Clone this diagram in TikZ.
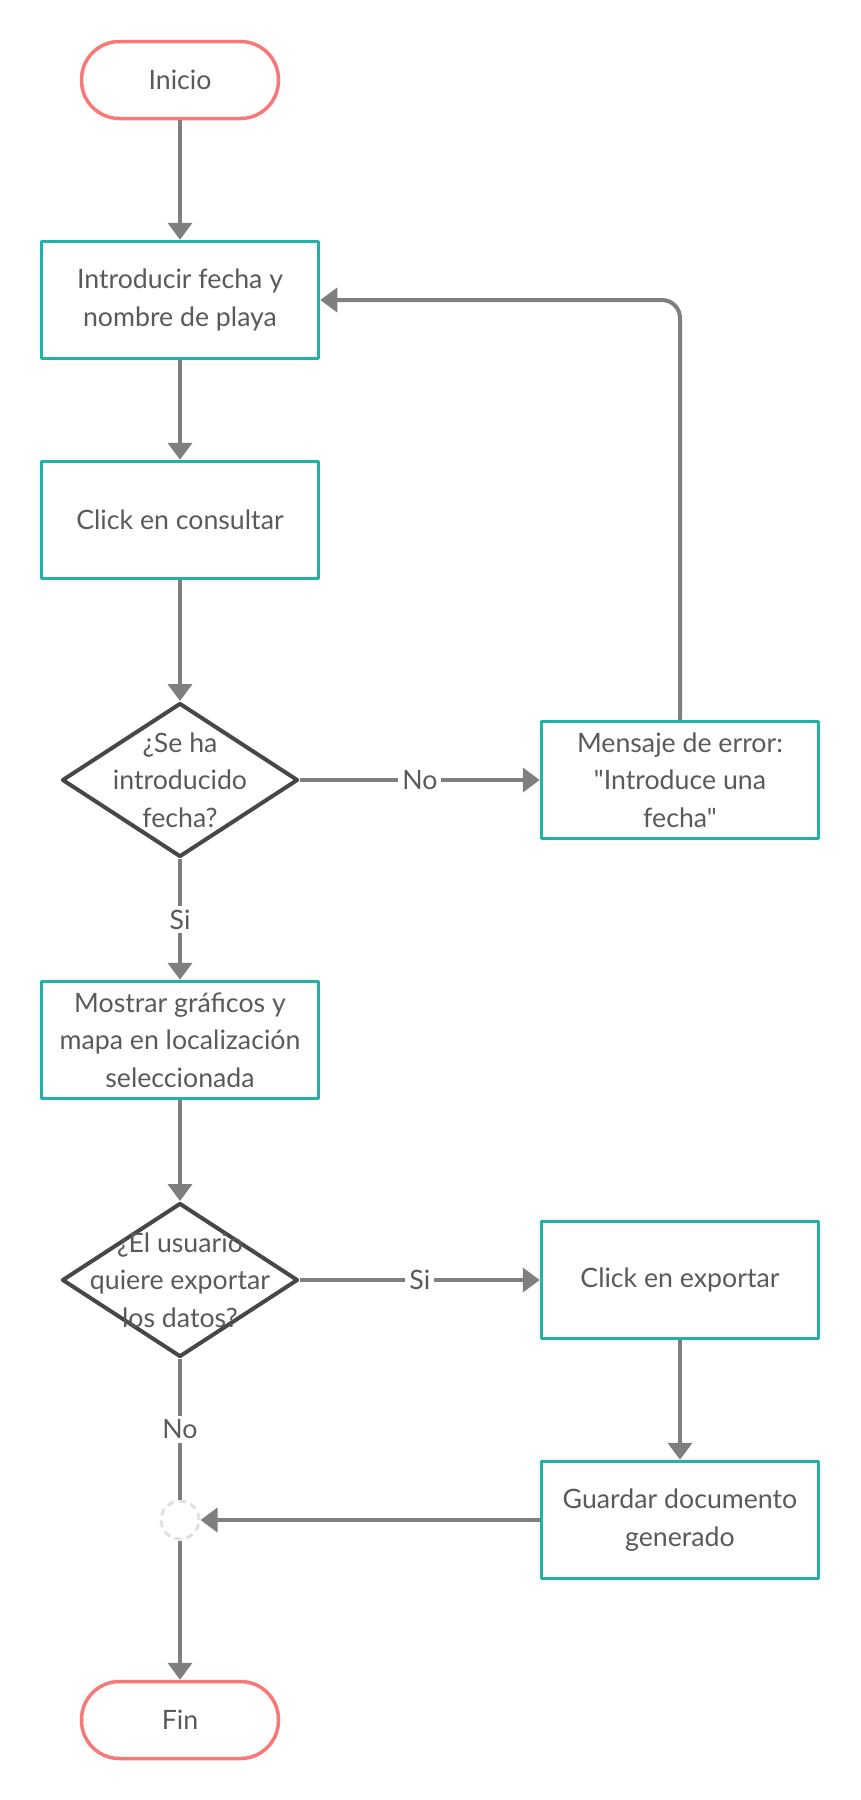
\documentclass[tikz,border=0pt]{standalone}
\usepackage{fontspec}
\newfontfamily\latofont{Lato}
\usetikzlibrary{arrows.meta,shapes.geometric}

\definecolor{linegray}{HTML}{7F7F7F}
\definecolor{boxteal}{HTML}{22B0AB}
\definecolor{endred}{HTML}{F87878}
\definecolor{txtgray}{HTML}{5A5A5A}
\definecolor{diagray}{HTML}{474747}

\tikzstyle{obj1}=[line width=3.5pt, line join=round]

\begin{document}
\begin{tikzpicture}[
	x=1pt, y=-1pt,
	font=\latofont\fontsize{26.7}{37.5}\selectfont, text=txtgray,
	proc/.style={obj1, draw=boxteal, fill=white, minimum width=277pt, minimum height=117pt, align=center, inner sep=0pt},
	term/.style={obj1, draw=endred, fill=white, rounded corners=38pt, minimum width=197pt, minimum height=77pt},
	decision/.style={diamond, obj1, line width=4pt, draw=diagray, fill=white, minimum width=236pt, minimum height=154pt, inner sep=0pt},
	dtext/.style={align=center, inner sep=0pt},
	joint/.style={circle, draw=black!12, line width=3pt, dash pattern=on 7pt off 5pt, minimum size=38pt, inner sep=0pt},
	line/.style={draw=linegray, line width=4pt},
	conn/.style={line, -{Triangle[length=17pt,width=24pt]}},
	lbl/.style={fill=white, inner sep=4pt}
	]
	
	\useasboundingbox (0,0) rectangle (860,1800);
	
	% main column
	\node[term] (inicio) at (180,80) {Inicio};
	\node[proc] (fecha) at (180,300) {Introducir fecha y\\nombre de playa};
	\node[proc] (consultar) at (180,520) {Click en consultar};
	\node[decision] (hayfecha) at (180,780) {};
	\node[dtext] (hayfechatxt) at (hayfecha) {¿Se ha\\introducido\\fecha?};
	\node[proc] (mostrar) at (180,1040) {Mostrar gráficos y\\mapa en localización\\seleccionada};
	\node[decision] (exportar) at (180,1280) {};
	\node[dtext] (exportartxt) at (exportar) {¿El usuario\\quiere exportar\\los datos?};
	\node[joint] (union) at (180,1520) {};
	\node[term] (fin) at (180,1720) {Fin};
	
	% right column
	\node[proc] (error) at (680,780) {Mensaje de error:\\"Introduce una\\fecha"};
	\node[proc] (clickexp) at (680,1280) {Click en exportar};
	\node[proc] (guardar) at (680,1520) {Guardar documento\\generado};
	
	% connectors
	\draw[conn] (inicio) -- (fecha);
	\draw[conn] (fecha) -- (consultar);
	\draw[conn] (consultar) -- (hayfecha.north);
	\draw[conn] (hayfecha.east) -- node[lbl] {No} (error.west);
	\draw[conn, rounded corners=18pt] (error.north) |- (fecha.east);
	\draw[conn] (hayfecha.south) -- node[lbl] {Si} (mostrar.north);
	\draw[conn] (mostrar) -- (exportar.north);
	\draw[conn] (exportar.east) -- node[lbl] {Si} (clickexp.west);
	\draw[conn] (clickexp) -- (guardar);
	\draw[conn] (guardar) -- (union);
	\draw[line] (exportar.south) -- node[lbl] {No} (union);
	\draw[conn] (union) -- (fin);
	
\end{tikzpicture}
\end{document}
